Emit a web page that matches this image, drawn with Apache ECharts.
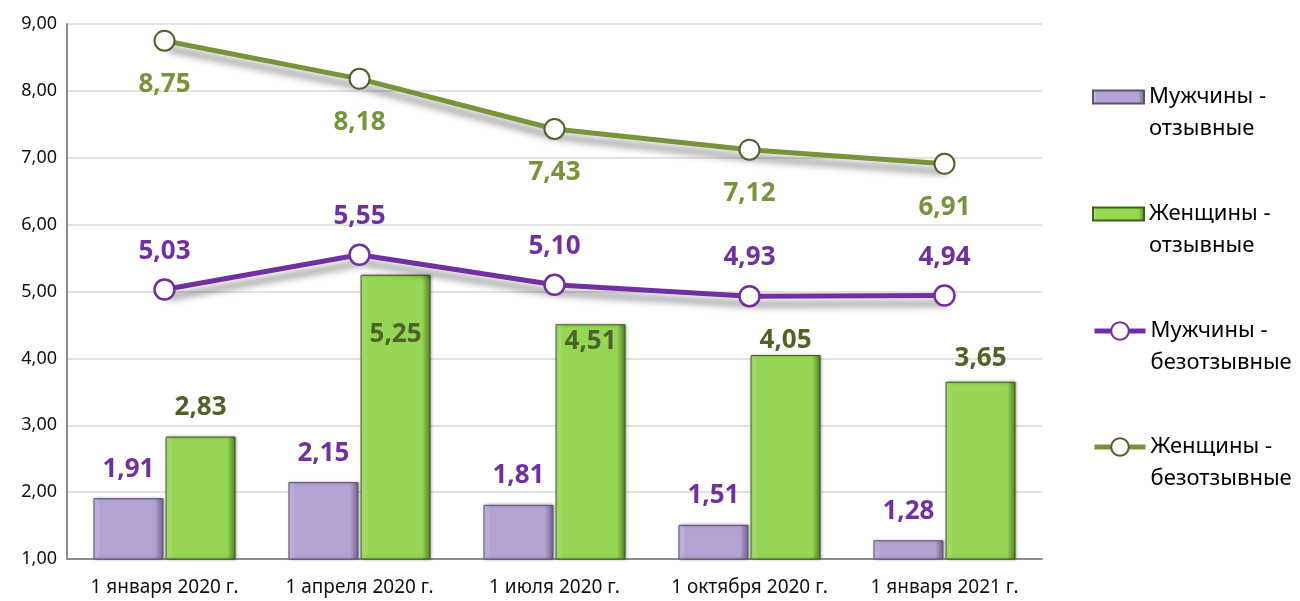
<!DOCTYPE html>
<html>
<head>
<meta charset="utf-8">
<script src="https://cdn.jsdelivr.net/npm/echarts@6/dist/echarts.min.js"></script>
<style>
html, body { margin: 0; padding: 0; background: #fff; }
#DataChart { width: 1300px; height: 601px; }
</style>
</head>
<body>
<div id="DataChart"></div>
<script>
// данные
var categories = ['1 января 2020 г.', '1 апреля 2020 г.', '1 июля 2020 г.', '1 октября 2020 г.', '1 января 2021 г.'];
var menOtz = [1.91, 2.15, 1.81, 1.51, 1.28];
var womenOtz = [2.83, 5.25, 4.51, 4.05, 3.65];
var menBez = [5.03, 5.55, 5.10, 4.93, 4.94];
var womenBez = [8.75, 8.18, 7.43, 7.12, 6.91];
var seriesNames = ['Мужчины -\nотзывные', 'Женщины -\nотзывные', 'Мужчины -\nбезотзывные', 'Женщины -\nбезотзывные'];

var FONT = 'Noto Sans';
var myChart = echarts.init(document.getElementById('DataChart'));

function fmt(v) {
    return Number(v).toFixed(2).replace('.', ',');
}

function barGrad(light, mid, dark) {
    return new echarts.graphic.LinearGradient(0, 0, 1, 0, [
        {offset: 0, color: light},
        {offset: 0.1, color: mid},
        {offset: 0.88, color: mid},
        {offset: 1, color: dark}
    ]);
}

var purpleBar = barGrad('#d3c8ea', '#b3a2d3', '#6f608a');
var greenBar = barGrad('#bdea8c', '#95d655', '#527d25');

// подписи зелёных столбцов Excel расставил неравномерно
var womenOtzData = womenOtz.map(function (v, i) {
    var item = {value: v};
    if (i === 1) item.label = {position: 'insideTop', distance: 47};
    if (i === 2) item.label = {position: 'insideTop', distance: 4};
    if (i === 3) item.label = {distance: 1};
    if (i === 4) item.label = {distance: 10};
    return item;
});

function legendFor(name, top, isBar) {
    var l = {
        data: [name],
        orient: 'vertical',
        left: 1087,
        top: top,
        itemWidth: 51,
        itemHeight: isBar ? 13 : 22,
        itemGap: 0,
        formatter: function (n) { return '\n' + n; },
        textStyle: {
            fontFamily: FONT,
            fontSize: 22,
            color: '#000',
            lineHeight: 32
        }
    };
    if (isBar) {
        l.icon = 'rect';
    } else {
        l.lineStyle = {width: 5};
        l.itemStyle = {borderWidth: 2};
    }
    return l;
}

var option = {
    animation: false,
    textStyle: {fontFamily: FONT},
    grid: {left: 67, right: 258, top: 24, bottom: 42},
    legend: [
        legendFor(seriesNames[0], 44, true),
        legendFor(seriesNames[1], 161, true),
        legendFor(seriesNames[2], 278, false),
        legendFor(seriesNames[3], 394, false)
    ],
    xAxis: {
        type: 'category',
        data: categories,
        axisLine: {lineStyle: {color: '#8c8c8c', width: 2}},
        axisTick: {show: false},
        axisLabel: {color: '#111', fontSize: 19, fontFamily: FONT, margin: 19, interval: 0}
    },
    yAxis: {
        type: 'value',
        min: 1,
        max: 9,
        interval: 1,
        axisLine: {show: true, lineStyle: {color: '#8c8c8c', width: 2}},
        axisTick: {show: false},
        splitLine: {lineStyle: {color: '#d9d9d9', width: 1.5}},
        axisLabel: {
            color: '#111', fontSize: 18, fontFamily: FONT, margin: 10,
            formatter: function (v) { return fmt(v); }
        }
    },
    series: [
        {
            name: seriesNames[0],
            type: 'bar',
            data: menOtz,
            barWidth: 70,
            barGap: '3%',
            itemStyle: {
                color: purpleBar,
                borderColor: '#5e5275',
                borderWidth: 1,
                shadowColor: 'rgba(0,0,0,0.35)',
                shadowBlur: 3,
                shadowOffsetX: 1
            },
            label: {
                show: true,
                position: 'top',
                distance: 16,
                color: '#7030a0',
                fontSize: 26,
                fontWeight: 'bold',
                fontFamily: FONT,
                formatter: function (p) { return fmt(p.value); }
            }
        },
        {
            name: seriesNames[1],
            type: 'bar',
            data: womenOtzData,
            barWidth: 70,
            itemStyle: {
                color: greenBar,
                borderColor: '#3a6316',
                borderWidth: 1,
                shadowColor: 'rgba(0,0,0,0.35)',
                shadowBlur: 3,
                shadowOffsetX: 1
            },
            label: {
                show: true,
                position: 'top',
                distance: 16,
                color: '#4f6228',
                fontSize: 26,
                fontWeight: 'bold',
                fontFamily: FONT,
                formatter: function (p) { return fmt(p.value); }
            }
        },
        {
            name: seriesNames[2],
            type: 'line',
            data: menBez,
            symbol: 'circle',
            symbolSize: 20,
            z: 5,
            lineStyle: {
                color: '#7030a0',
                width: 5,
                shadowColor: 'rgba(0,0,0,0.45)',
                shadowBlur: 7,
                shadowOffsetX: 3,
                shadowOffsetY: 8
            },
            itemStyle: {color: '#fff', borderColor: '#7030a0', borderWidth: 2.5},
            label: {
                show: true,
                position: 'top',
                distance: 14,
                color: '#7030a0',
                fontSize: 26,
                fontWeight: 'bold',
                fontFamily: FONT,
                formatter: function (p) { return fmt(p.value); }
            }
        },
        {
            name: seriesNames[3],
            type: 'line',
            data: womenBez,
            symbol: 'circle',
            symbolSize: 20,
            z: 5,
            lineStyle: {
                color: '#77933c',
                width: 5,
                shadowColor: 'rgba(0,0,0,0.45)',
                shadowBlur: 7,
                shadowOffsetX: 3,
                shadowOffsetY: 8
            },
            itemStyle: {color: '#fff', borderColor: '#4f6228', borderWidth: 2},
            label: {
                show: true,
                position: 'bottom',
                distance: 20,
                color: '#77933c',
                fontSize: 26,
                fontWeight: 'bold',
                fontFamily: FONT,
                formatter: function (p) { return fmt(p.value); }
            }
        }
    ]
};

myChart.setOption(option);
</script>
</body>
</html>
